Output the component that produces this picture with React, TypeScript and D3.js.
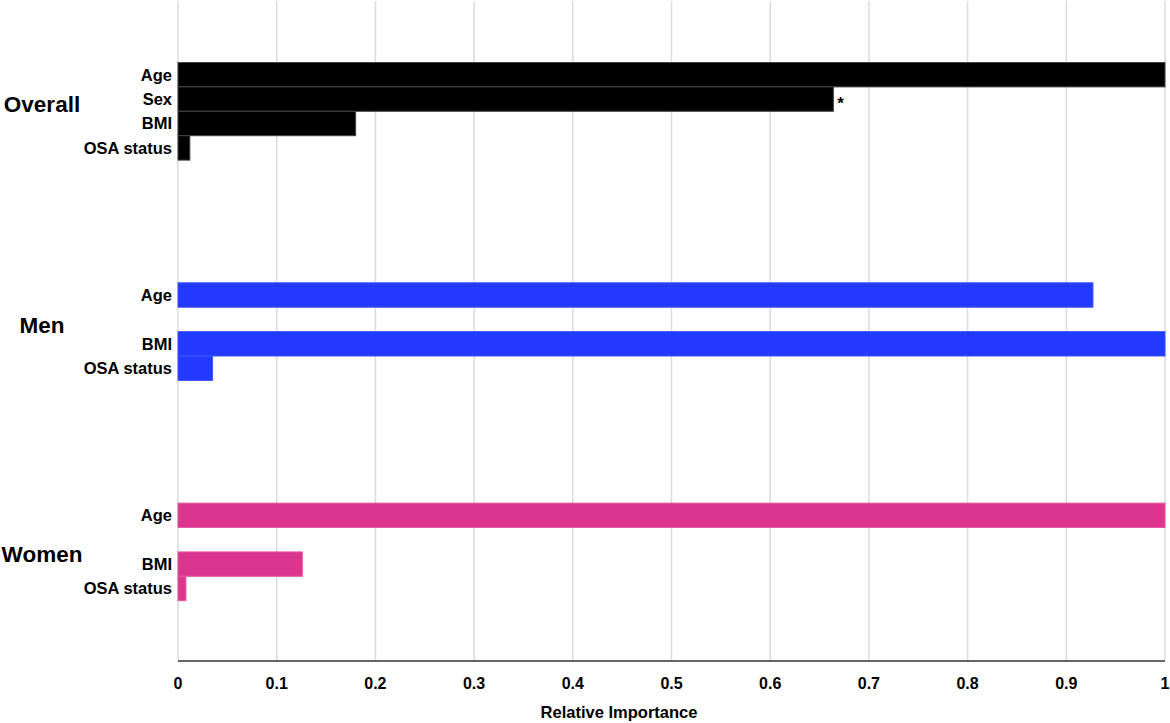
import React from "react";
import * as d3 from "d3";

const groups = ["Overall", "Men", "Women"];
const variables = ["Age", "Sex", "BMI", "OSA status"];
const overallValues = [1.0, 0.664, 0.18, 0.012];
const menValues = [0.927, null, 1.0, 0.035];
const womenValues = [1.0, null, 0.126, 0.008];
const groupColors = ["#000000", "#2239ff", "#dc358d"];
const groupStrokes = ["#444444", "#3b55ff", "#e45aa3"];
const xTicks = [0, 0.1, 0.2, 0.3, 0.4, 0.5, 0.6, 0.7, 0.8, 0.9, 1];
const significant = [[0, 1]];

const W = 1170;
const H = 723;
const FONT = "'Liberation Sans', Arial, Helvetica, sans-serif";
const labelOffsets = [41, 42, 51];

export default function App() {
  const x = d3.scaleLinear().domain([0, 1]).range([178, 1165]);
  const gy = d3.scaleBand<string>().domain(groups).range([62.5, 62.5 + 3 * 220.3]).padding(0);
  const vy = d3.scaleBand<string>().domain(variables).range([0, 97.6]).padding(0);
  const allValues = [overallValues, menValues, womenValues];
  const axisY = 661;

  return (
    <svg width={W} height={H} style={{ position: "absolute", left: 0, top: 0, background: "#fff" }} fontFamily={FONT}>
      {xTicks.map((t) => (
        <line key={"g" + t} x1={x(t)} x2={x(t)} y1={1} y2={axisY} stroke="#dcdcdc" strokeWidth={1.5} />
      ))}
      {groups.map((g, gi) => {
        const g0 = gy(g)!;
        const vals = allValues[gi];
        return (
          <g key={g}>
            {variables.map((v, vi) => {
              const val = vals[vi];
              if (val === null) return null;
              const y0 = g0 + vy(v)!;
              return (
                <g key={v}>
                  <rect
                    x={x(0)}
                    y={y0}
                    width={x(val) - x(0)}
                    height={vy.bandwidth()}
                    fill={groupColors[gi]}
                    stroke={groupStrokes[gi]}
                    strokeWidth={1}
                  />
                  <text x={172} y={y0 + vy.bandwidth() / 2} dy="0.36em" textAnchor="end" fontSize={16.5} fontWeight="bold" fill="#000">
                    {v}
                  </text>
                </g>
              );
            })}
            <text x={42} y={g0 + labelOffsets[gi]} dy="0.36em" textAnchor="middle" fontSize={22.5} fontWeight="bold" fill="#000">
              {g}
            </text>
          </g>
        );
      })}
      {significant.map(([gi, vi]) => {
        const val = allValues[gi][vi] as number;
        const y0 = gy(groups[gi])! + vy(variables[vi])!;
        return (
          <text key={"s" + gi + vi} x={x(val) + 4} y={y0 + vy.bandwidth() / 2 + 10} fontSize={17} fontWeight="bold" fill="#000">
            *
          </text>
        );
      })}
      <line x1={x(0)} x2={x(1)} y1={axisY} y2={axisY} stroke="#333" strokeWidth={1.5} />
      {xTicks.map((t) => (
        <text key={"t" + t} x={x(t)} y={683} dy="0.36em" textAnchor="middle" fontSize={16} fontWeight="bold" fill="#000">
          {d3.format("~g")(t)}
        </text>
      ))}
      <text x={619} y={712} dy="0.36em" textAnchor="middle" fontSize={16.5} fontWeight="bold" fill="#000">
        Relative Importance
      </text>
    </svg>
  );
}
